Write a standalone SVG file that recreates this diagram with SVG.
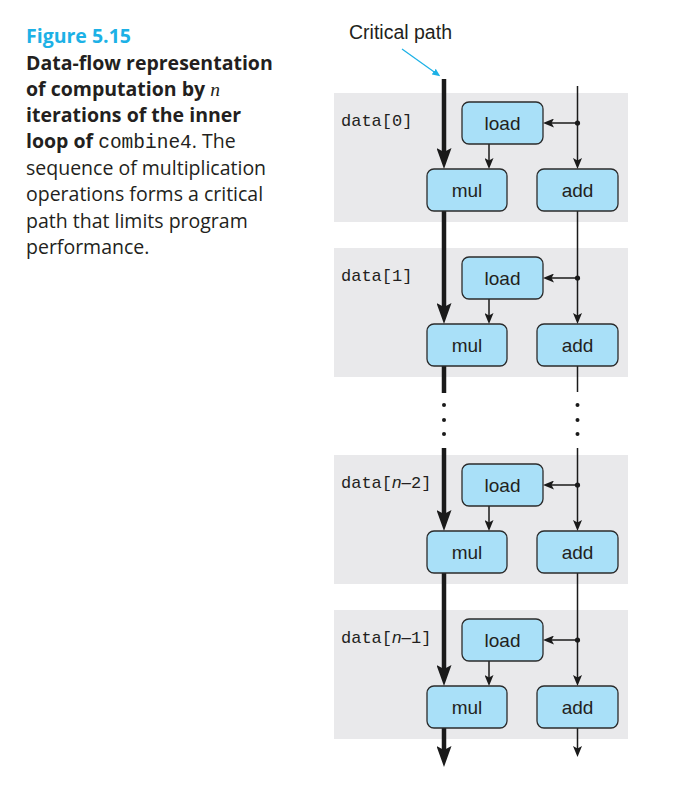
<svg xmlns="http://www.w3.org/2000/svg" width="688" height="811" viewBox="0 0 688 811">
<style>
.cap{font-family:"Open Sans","Liberation Sans",Arial,sans-serif;font-size:19.5px;fill:#231f20}
.b{font-weight:bold}
.mono{font-family:"Liberation Mono","Courier New",monospace}
.panel{fill:#e9e9eb}
.box{fill:#a9e0f8;stroke:#2b2b2b;stroke-width:1.3}
.lbl{font-family:"Liberation Sans",Arial,sans-serif;font-size:19px;fill:#231f20;text-anchor:middle}
.dl{font-family:"Liberation Mono","Courier New",monospace;font-size:17px;fill:#231f20}
.it{font-family:"Liberation Sans",Arial,sans-serif;font-style:italic}
.sans{font-family:"Liberation Sans",Arial,sans-serif}
.thick{stroke:#1a1a1a;stroke-width:4.5;fill:none}
.thin{stroke:#1a1a1a;stroke-width:1.5;fill:none}
.dot{fill:#1a1a1a}
</style>
<defs>
<marker id="hb" markerUnits="userSpaceOnUse" viewBox="0 0 21 15" markerWidth="21" markerHeight="15" refX="11" refY="7.5" orient="auto">
<path d="M0,0 L21,7.5 L0,15 L4,7.5 Z" fill="#1a1a1a"/>
</marker>
<marker id="hs" markerUnits="userSpaceOnUse" viewBox="0 0 11 9" markerWidth="11" markerHeight="9" refX="5" refY="4.5" orient="auto">
<path d="M0,0 L11,4.5 L0,9 L2.5,4.5 Z" fill="#1a1a1a"/>
</marker>
<marker id="hc" markerUnits="userSpaceOnUse" viewBox="0 0 8 7" markerWidth="8" markerHeight="7" refX="4" refY="3.5" orient="auto">
<path d="M0,0 L8,3.5 L0,7 Z" fill="#1cb1e6"/>
</marker>
</defs>

<g id="caption">
<text class="cap b" x="26" y="43" style="fill:#1cb1e6">Figure 5.15</text>
<text class="cap b" x="26" y="70">Data-flow representation</text>
<text class="cap b" x="26" y="96">of computation by <tspan style="font-family:'Liberation Serif',serif;font-style:italic;font-weight:normal">n</tspan></text>
<text class="cap b" x="26" y="122">iterations of the inner</text>
<text class="cap" x="26" y="148"><tspan class="b">loop of </tspan><tspan class="mono">combine4</tspan>. The</text>
<text class="cap" x="26" y="175">sequence of multiplication</text>
<text class="cap" x="26" y="201">operations forms a critical</text>
<text class="cap" x="26" y="228">path that limits program</text>
<text class="cap" x="26" y="254">performance.</text>
</g>

<g id="panels">
<rect class="panel" x="334" y="93" width="294" height="129"/>
<rect class="panel" x="334" y="248" width="294" height="129"/>
<rect class="panel" x="334" y="455" width="294" height="129"/>
<rect class="panel" x="334" y="610" width="294" height="129"/>
<text class="dl" x="341" y="126">data[0]</text>
<text class="dl" x="341" y="281">data[1]</text>
<text class="dl" x="341" y="488">data[<tspan class="it">n</tspan><tspan class="sans">–</tspan>2]</text>
<text class="dl" x="341" y="643">data[<tspan class="it">n</tspan><tspan class="sans">–</tspan>1]</text>
</g>

<g id="critical-label">
<text class="lbl" x="400.5" y="39" style="font-size:19.5px">Critical path</text>
</g>

<g id="connectors">
<line x1="402" y1="49" x2="437" y2="74" stroke="#1cb1e6" stroke-width="1.2" marker-end="url(#hc)"/>
<line class="thick" x1="444" y1="79" x2="444" y2="159" marker-end="url(#hb)"/>
<line class="thick" x1="444" y1="211" x2="444" y2="314" marker-end="url(#hb)"/>
<line class="thick" x1="444" y1="366" x2="444" y2="393"/>
<line class="thick" x1="444" y1="448" x2="444" y2="521" marker-end="url(#hb)"/>
<line class="thick" x1="444" y1="573" x2="444" y2="676" marker-end="url(#hb)"/>
<line class="thick" x1="444" y1="728" x2="444" y2="757" marker-end="url(#hb)"/>
<line class="thin" x1="577.5" y1="86" x2="577.5" y2="163" marker-end="url(#hs)"/>
<line class="thin" x1="577.5" y1="211" x2="577.5" y2="318" marker-end="url(#hs)"/>
<line class="thin" x1="577.5" y1="366" x2="577.5" y2="392"/>
<line class="thin" x1="577.5" y1="448" x2="577.5" y2="525" marker-end="url(#hs)"/>
<line class="thin" x1="577.5" y1="573" x2="577.5" y2="680" marker-end="url(#hs)"/>
<line class="thin" x1="577.5" y1="728" x2="577.5" y2="751" marker-end="url(#hs)"/>
<line class="thin" x1="577.5" y1="123" x2="549" y2="123" marker-end="url(#hs)"/>
<line class="thin" x1="577.5" y1="278" x2="549" y2="278" marker-end="url(#hs)"/>
<line class="thin" x1="577.5" y1="485" x2="549" y2="485" marker-end="url(#hs)"/>
<line class="thin" x1="577.5" y1="640" x2="549" y2="640" marker-end="url(#hs)"/>
<circle class="dot" cx="577.5" cy="123" r="2.6"/>
<circle class="dot" cx="577.5" cy="278" r="2.6"/>
<circle class="dot" cx="577.5" cy="485" r="2.6"/>
<circle class="dot" cx="577.5" cy="640" r="2.6"/>
<line class="thin" x1="489" y1="144" x2="489" y2="163" marker-end="url(#hs)"/>
<line class="thin" x1="489" y1="299" x2="489" y2="318" marker-end="url(#hs)"/>
<line class="thin" x1="489" y1="506" x2="489" y2="525" marker-end="url(#hs)"/>
<line class="thin" x1="489" y1="661" x2="489" y2="680" marker-end="url(#hs)"/>
<circle class="dot" cx="444" cy="405" r="2"/>
<circle class="dot" cx="444" cy="420" r="2"/>
<circle class="dot" cx="444" cy="434" r="2"/>
<circle class="dot" cx="577.5" cy="405" r="2"/>
<circle class="dot" cx="577.5" cy="420" r="2"/>
<circle class="dot" cx="577.5" cy="434" r="2"/>
</g>

<g id="load0"><rect class="box" x="462" y="102" width="81" height="42" rx="7"/><text class="lbl" x="502.5" y="130">load</text></g>
<g id="mul0"><rect class="box" x="427" y="169" width="80" height="42" rx="7"/><text class="lbl" x="467" y="197">mul</text></g>
<g id="add0"><rect class="box" x="537" y="169" width="81" height="42" rx="7"/><text class="lbl" x="577.5" y="197">add</text></g>

<g id="load1"><rect class="box" x="462" y="257" width="81" height="42" rx="7"/><text class="lbl" x="502.5" y="285">load</text></g>
<g id="mul1"><rect class="box" x="427" y="324" width="80" height="42" rx="7"/><text class="lbl" x="467" y="352">mul</text></g>
<g id="add1"><rect class="box" x="537" y="324" width="81" height="42" rx="7"/><text class="lbl" x="577.5" y="352">add</text></g>

<g id="load2"><rect class="box" x="462" y="464" width="81" height="42" rx="7"/><text class="lbl" x="502.5" y="492">load</text></g>
<g id="mul2"><rect class="box" x="427" y="531" width="80" height="42" rx="7"/><text class="lbl" x="467" y="559">mul</text></g>
<g id="add2"><rect class="box" x="537" y="531" width="81" height="42" rx="7"/><text class="lbl" x="577.5" y="559">add</text></g>

<g id="load3"><rect class="box" x="462" y="619" width="81" height="42" rx="7"/><text class="lbl" x="502.5" y="647">load</text></g>
<g id="mul3"><rect class="box" x="427" y="686" width="80" height="42" rx="7"/><text class="lbl" x="467" y="714">mul</text></g>
<g id="add3"><rect class="box" x="537" y="686" width="81" height="42" rx="7"/><text class="lbl" x="577.5" y="714">add</text></g>
</svg>
